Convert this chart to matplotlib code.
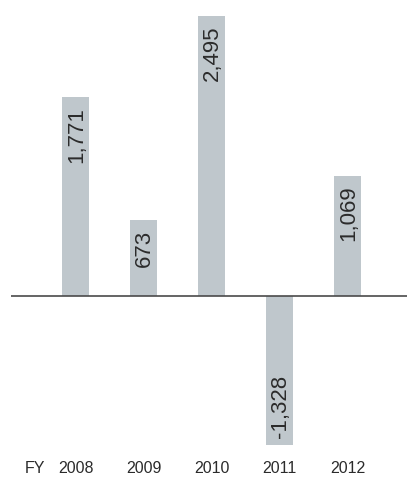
import matplotlib.pyplot as plt
import numpy as np

years = ['2008', '2009', '2010', '2011', '2012']
values = [1771, 673, 2495, -1328, 1069]
labels = ['1,771', '673', '2,495', '-1,328', '1,069']

bar_color = '#bfc7cc'
text_color = '#2b2b2b'

fig = plt.figure(figsize=(4.07, 4.81), dpi=100)
ax = fig.add_axes([11 / 407, 0, 396 / 407, 1])

x = np.arange(len(years))
ax.bar(x, values, width=0.4, color=bar_color, zorder=1)
ax.axhline(0, color='#4a4a4a', lw=1.2, zorder=2)

ax.set_xlim(-0.949, 4.875)
ax.set_ylim(-1640, 2647)
ax.axis('off')

font = ['Liberation Sans', 'DejaVu Sans']
pad = 75
for xi, v, lab in zip(x, values, labels):
    if v >= 0:
        ax.text(xi + 0.015, v - pad, lab, rotation=90, ha='center', va='top',
                fontsize=16, family=font, color=text_color)
    else:
        ax.text(xi + 0.015, v + pad, lab, rotation=90, ha='center', va='bottom',
                fontsize=16, family=font, color=text_color)

label_y = -1533
for xi, yr in zip(x, years):
    ax.text(xi, label_y, yr, ha='center', va='center', fontsize=11.5,
            family=font, color=text_color)
ax.text(-0.449, label_y, 'FY', ha='right', va='center', fontsize=11.5,
        family=font, color=text_color)

fig.savefig('out.png', dpi=100)
